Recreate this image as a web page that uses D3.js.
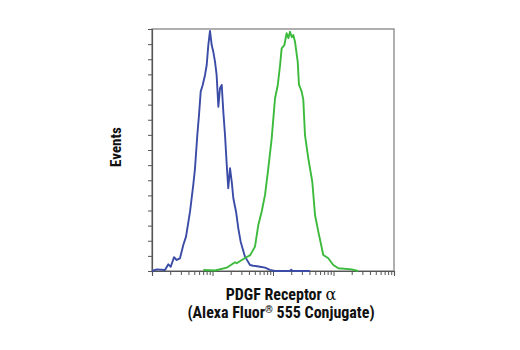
<!DOCTYPE html>
<html>
<head>
<meta charset="utf-8">
<script src="https://cdn.jsdelivr.net/npm/d3@7"></script>
<style>
  html, body { margin: 0; padding: 0; background: #fff; }
  svg { display: block; }
  .lbl { font-family: "Liberation Sans Narrow", "Arial Narrow", "Roboto Condensed", "Liberation Sans", sans-serif; font-weight: bold; fill: #111; }
</style>
</head>
<body>
<svg id="chart" width="520" height="350"></svg>
<script>
// Fluorescence intensity (log scale, 10^0 .. 10^4) and event counts (0..160)
const isotypeX = [1, 1.2, 1.64, 1.86, 2.04, 2.31, 2.56, 2.9, 3.29, 3.65, 4.25, 4.81, 5.14, 5.61, 5.98, 6.38, 6.89, 7.52, 8.02, 8.53, 9.09, 9.7, 10.3, 11.0, 11.7, 12.5, 13.3, 14.2, 15.1, 16.1, 17.2, 18.2, 19.5, 20.8, 22.1, 24.5, 26.7, 29.2, 34.4, 41.7, 47.2, 61.0, 73.8, 89.2, 108, 191, 200, 210, 313, 409];
const isotypeY = [0, 1.1, 0.7, 4.4, 2.8, 9.1, 7.3, 8.4, 17.2, 22.7, 39.2, 56.9, 67.9, 89.9, 103.1, 118.6, 123.0, 129.6, 136.2, 149.4, 158.7, 149.4, 145.0, 138.4, 129.6, 108.6, 120.8, 123.0, 105.3, 89.9, 70.1, 54.7, 67.9, 59.0, 48.1, 39.2, 28.2, 19.4, 9.5, 4.0, 3.5, 2.8, 2.2, 0.7, 0, 0, 0.8, 0, 0, 0];
const antibodyX = [7.05, 11, 17.2, 23.5, 25.1, 34.4, 42, 50.4, 57.1, 65.0, 73.8, 83.6, 95.2, 108, 120, 131, 139, 154, 168, 180, 191, 205, 217, 231, 256, 269, 280, 298, 317, 338, 383, 446, 495, 561, 678, 820, 993, 1200, 2000, 2540];
const antibodyY = [0.7, 0.3, 2.2, 5.8, 5.1, 8.6, 10.5, 16.1, 30.4, 39.2, 50.3, 67.9, 87.7, 114.2, 123.0, 136.2, 147.2, 149.4, 157.2, 154.0, 158.2, 154.5, 156.0, 151.6, 138.4, 123.0, 121.5, 118.6, 113.1, 89.9, 74.5, 59.0, 37.0, 26.0, 10.6, 8.4, 4.0, 1.8, 1.1, 0];
const xDomain = [1, 10000];
const yDomain = [0, 160];
const yTickValues = d3.range(0, 161, 10);
const xLabelLine1 = "PDGF Receptor ";
const xLabelAlpha = "α";
const xLabelLine2a = "(Alexa Fluor";
const xLabelReg = "®";
const xLabelLine2b = " 555 Conjugate)";
const yLabel = "Events";

const svg = d3.select("#chart");
const L = 152, R = 394, T = 29, B = 271;
const x = d3.scaleLog().domain(xDomain).range([L, R]);
const y = d3.scaleLinear().domain(yDomain).range([B, T]);

// frame
svg.append("rect").attr("x", L).attr("y", T).attr("width", R - L).attr("height", B - T)
  .attr("fill", "none").attr("stroke", "#7a7a7a").attr("stroke-width", 1.2);

// x axis: log ticks (minor + major)
const xTicks = [];
for (let e = 0; e < 4; e++) for (let m = 1; m < 10; m++) xTicks.push(m * Math.pow(10, e));
xTicks.push(10000);
const xAxis = d3.axisBottom(x).tickValues(xTicks).tickSize(4).tickFormat("");
const gx = svg.append("g").attr("transform", `translate(0,${B})`).call(xAxis);
gx.select(".domain").attr("stroke", "#555").attr("stroke-width", 1.2);
gx.selectAll(".tick line").attr("stroke", "#555")
  .attr("y2", d => (Math.abs(Math.log10(d) - Math.round(Math.log10(d))) < 1e-9 ? 5 : 4));

// y axis
const yAxis = d3.axisLeft(y).tickValues(yTickValues).tickSize(4).tickFormat("");
const gy = svg.append("g").attr("transform", `translate(${L},0)`).call(yAxis);
gy.select(".domain").attr("stroke", "#555").attr("stroke-width", 1.2);
gy.selectAll(".tick line").attr("stroke", "#555");

// curves
const line = d3.line().x(d => x(d[0])).y(d => y(d[1]));
svg.append("path").datum(isotypeX.map((v, i) => [v, isotypeY[i]]))
  .attr("d", line).attr("fill", "none").attr("stroke", "#3b4ca6").attr("stroke-width", 1.9)
  .attr("stroke-linejoin", "round");
svg.append("path").datum(antibodyX.map((v, i) => [v, antibodyY[i]]))
  .attr("d", line).attr("fill", "none").attr("stroke", "#3cba3c").attr("stroke-width", 1.9)
  .attr("stroke-linejoin", "round");

// labels
const cx = 281;
const t1 = svg.append("text").attr("class", "lbl").attr("x", cx).attr("y", 299.5)
  .attr("text-anchor", "middle").attr("font-size", 16);
t1.append("tspan").text(xLabelLine1);
t1.append("tspan").attr("font-family", "'DejaVu Serif', serif").attr("font-weight", "normal").attr("font-size", 16).text(xLabelAlpha);

const t2 = svg.append("text").attr("class", "lbl").attr("x", cx).attr("y", 317.5)
  .attr("text-anchor", "middle").attr("font-size", 16);
t2.append("tspan").text(xLabelLine2a);
t2.append("tspan").attr("font-size", 10).attr("dy", -5).text(xLabelReg);
t2.append("tspan").attr("dy", 5).text(xLabelLine2b);

svg.append("text").attr("class", "lbl").attr("transform", "translate(121,147) rotate(-90)")
  .attr("text-anchor", "middle").attr("font-size", 15).text(yLabel);
</script>
</body>
</html>
